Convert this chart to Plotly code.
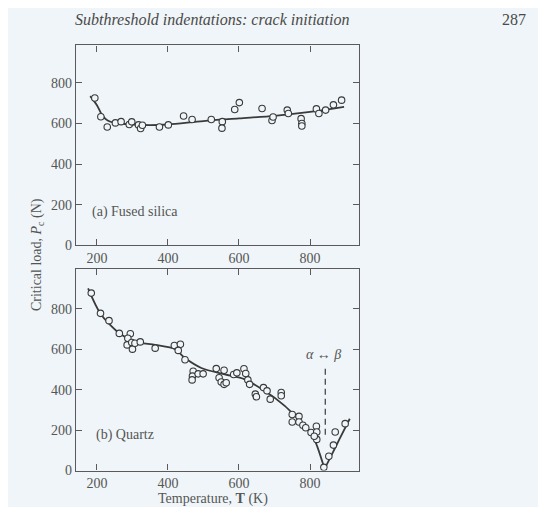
import plotly.graph_objects as go

# ---- data ----
silica_T = [194, 211, 229, 252, 268, 291, 298, 317, 323, 328, 376, 401, 444, 468, 522, 553, 552,
            588, 601, 665, 693, 696, 736, 739, 775, 777, 777, 818, 825, 844, 866, 889]
silica_P = [726, 633, 583, 603, 609, 595, 608, 593, 575, 591, 583, 593, 637, 620, 620, 609, 577,
            669, 703, 674, 615, 632, 666, 649, 624, 600, 588, 672, 649, 666, 692, 715]
silica_fit_T = [181, 200, 215, 230, 250, 300, 350, 400, 500, 600, 700, 800, 896]
silica_fit_P = [735, 690, 640, 615, 603, 595, 592, 595, 612, 625, 638, 657, 682]

quartz_T = [184, 210, 234, 263, 294, 287, 285, 298, 300, 307, 322, 364, 418, 435, 429, 448,
            471, 469, 468, 485, 499, 536, 544, 558, 550, 558, 564, 585, 594, 614, 619, 625,
            630, 646, 649, 669, 679, 688, 719, 719, 750, 750, 769, 769, 780, 788, 803, 818,
            819, 819, 812, 839, 853, 866, 871, 899]
quartz_P = [877, 777, 741, 678, 676, 654, 621, 633, 600, 629, 636, 605, 618, 624, 594, 548,
            491, 467, 448, 478, 478, 504, 459, 496, 438, 426, 434, 475, 483, 503, 480, 448,
            426, 378, 365, 410, 394, 353, 386, 370, 277, 240, 268, 240, 224, 212, 188, 219,
            191, 154, 170, 16, 71, 126, 191, 232]
quartz_fit1_T = [175, 210, 261, 307, 364, 420, 448, 494, 560, 616, 672, 728, 775, 798, 817, 841]
quartz_fit1_P = [900, 775, 681, 637, 621, 600, 556, 507, 475, 451, 394, 321, 240, 200, 134, 8]
quartz_fit2_T = [841, 861, 884, 912]
quartz_fit2_P = [8, 78, 159, 256]

transition_T = [843, 843]
transition_P = [177, 507]

x_ticks = [200, 400, 600, 800]
y_ticks = [0, 200, 400, 600, 800]

BG = "#eff5f8"
INK = "#3a3a3a"
TXT = "#555555"
FONT = "Liberation Serif, Times New Roman, serif"
W, H = 546, 507

fig = go.Figure()

marker = dict(symbol="circle", size=6.5, color=BG, line=dict(color=INK, width=1.1))

fig.add_trace(go.Scatter(x=silica_fit_T, y=silica_fit_P, mode="lines",
                         line=dict(color=INK, width=1.8, shape="spline", smoothing=0.9),
                         xaxis="x", yaxis="y", hoverinfo="skip"))
fig.add_trace(go.Scatter(x=silica_T, y=silica_P, mode="markers", marker=marker,
                         xaxis="x", yaxis="y"))

fig.add_trace(go.Scatter(x=quartz_fit1_T, y=quartz_fit1_P, mode="lines",
                         line=dict(color=INK, width=1.8, shape="spline", smoothing=0.8),
                         xaxis="x2", yaxis="y2", hoverinfo="skip"))
fig.add_trace(go.Scatter(x=quartz_fit2_T, y=quartz_fit2_P, mode="lines",
                         line=dict(color=INK, width=1.8, shape="spline", smoothing=0.6),
                         xaxis="x2", yaxis="y2", hoverinfo="skip"))
fig.add_trace(go.Scatter(x=transition_T, y=transition_P, mode="lines",
                         line=dict(color=INK, width=1.2, dash="6px,4px"),
                         xaxis="x2", yaxis="y2", hoverinfo="skip"))
fig.add_trace(go.Scatter(x=quartz_T, y=quartz_P, mode="markers", marker=marker,
                         xaxis="x2", yaxis="y2"))

xdom = [68 / W, 351 / W]
top_dom = [(H - 241) / H, (H - 38) / H]
bot_dom = [(H - 470) / H, (H - 265) / H]

axis_common = dict(showline=True, linecolor="#5a5a5a", linewidth=1.2, mirror="ticks",
                   ticks="inside", ticklen=6, tickwidth=1.1, tickcolor="#5a5a5a",
                   showgrid=False, zeroline=False,
                   tickfont=dict(family=FONT, size=14, color=TXT))

fig.update_layout(
    width=W, height=H,
    margin=dict(l=0, r=0, t=0, b=0),
    font=dict(family=FONT, color=TXT),
    paper_bgcolor=BG, plot_bgcolor=BG,
    showlegend=False,
    xaxis=dict(domain=xdom, range=[141, 938], tickvals=x_ticks, anchor="y", **axis_common),
    yaxis=dict(domain=top_dom, range=[0, 985], tickvals=y_ticks, anchor="x", **axis_common),
    xaxis2=dict(domain=xdom, range=[141, 938], tickvals=x_ticks, anchor="y2", **axis_common),
    yaxis2=dict(domain=bot_dom, range=[0, 997], tickvals=y_ticks, anchor="x2", **axis_common),
    annotations=[
        dict(text="<i>Subthreshold indentations: crack initiation</i>", xref="paper", yref="paper",
             x=65 / W, y=(H - 12) / H, xanchor="left", yanchor="middle", showarrow=False,
             font=dict(family=FONT, size=16, color="#4a4a4a")),
        dict(text="287", xref="paper", yref="paper", x=520 / W, y=(H - 12) / H,
             xanchor="right", yanchor="middle", showarrow=False,
             font=dict(family=FONT, size=16, color="#4a4a4a")),
        dict(text="(a) Fused silica", xref="x", yref="y", x=181, y=164, xanchor="left",
             yanchor="middle", showarrow=False, font=dict(family=FONT, size=14, color=TXT)),
        dict(text="(b) Quartz", xref="x2", yref="y2", x=193, y=178, xanchor="left",
             yanchor="middle", showarrow=False, font=dict(family=FONT, size=14, color=TXT)),
        dict(text="<i>α</i> ↔ <i>β</i>", xref="x2", yref="y2", x=838, y=572, xanchor="center",
             yanchor="middle", showarrow=False, font=dict(family=FONT, size=14, color=TXT)),
        dict(text="Critical load, <i>P</i><sub>c</sub> (N)", xref="paper", yref="paper",
             x=29 / W, y=(H - 251) / H, xanchor="center", yanchor="middle", textangle=-90,
             showarrow=False, font=dict(family=FONT, size=14, color=TXT)),
        dict(text="Temperature, <b>T</b> (K)", xref="paper", yref="paper",
             x=205 / W, y=(H - 499) / H, xanchor="center", yanchor="middle",
             showarrow=False, font=dict(family=FONT, size=14, color=TXT)),
    ],
)

fig.write_html("out.html")
